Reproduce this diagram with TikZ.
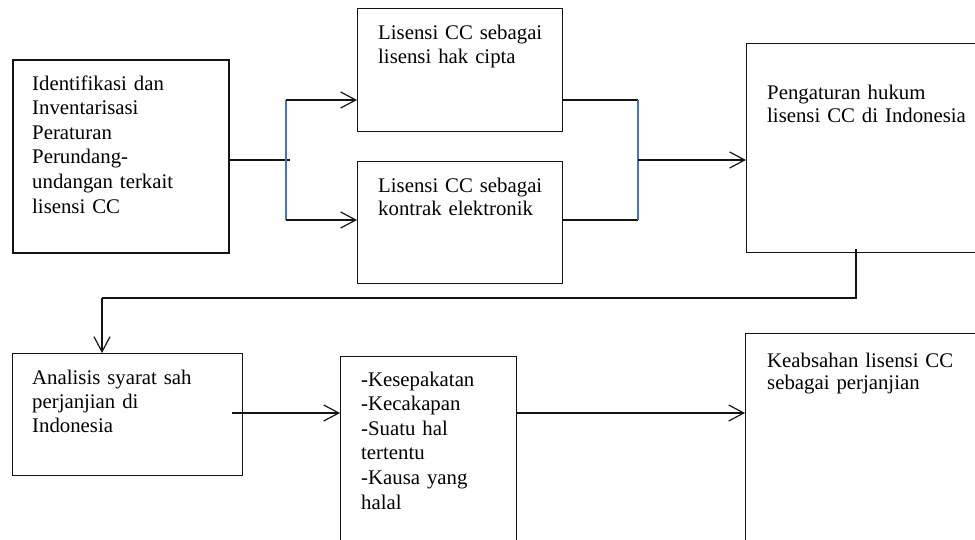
\documentclass[tikz,border=0pt]{standalone}
\usepackage{fontspec}
\setmainfont{Liberation Serif}
\usetikzlibrary{arrows.meta}
\definecolor{lineblue}{RGB}{68,114,196}
\definecolor{ink}{RGB}{20,20,20}
\begin{document}
\begin{tikzpicture}[x=1pt,y=-1pt,
  box/.style={draw=ink, line width=1.2pt, rectangle, inner sep=0pt, anchor=north west},
  lbl/.style={anchor=base west, inner sep=0pt, text width=250pt, align=left, text=black},
  conn/.style={draw=ink, line width=1.2pt},
  arr/.style={conn, -{Straight Barb[length=15pt,width=16pt]}},
  bus/.style={draw=lineblue, line width=1.2pt}]
\useasboundingbox (0,0) rectangle (975,539);
% boxes
\node[box, line width=2pt, minimum width=216pt, minimum height=193pt] (b1) at (12,59) {};
\node[box, minimum width=205pt, minimum height=123pt] (b2) at (357,8) {};
\node[box, minimum width=205pt, minimum height=122pt] (b3) at (357,161) {};
\node[box, minimum width=240pt, minimum height=209pt] (b4) at (746,43) {};
\node[box, minimum width=230pt, minimum height=122pt] (b5) at (12,353) {};
\node[box, minimum width=176pt, minimum height=200pt] (b6) at (340,356) {};
\node[box, minimum width=240pt, minimum height=220pt] (b7) at (745,333) {};
% texts
\node[lbl, font=\fontsize{20.8}{24.6}\selectfont] (t1) at (32,90)
  {Identifikasi dan\\Inventarisasi\\Peraturan\\Perundang-\\undangan terkait\\lisensi CC};
\node[lbl, font=\fontsize{20.8}{24}\selectfont] (t2) at (378,39)
  {Lisensi CC sebagai\\lisensi hak cipta};
\node[lbl, font=\fontsize{20.8}{23}\selectfont] (t3) at (378,192)
  {Lisensi CC sebagai\\kontrak elektronik};
\node[lbl, font=\fontsize{20.8}{23}\selectfont] (t4) at (767,99)
  {Pengaturan hukum\\lisensi CC di Indonesia};
\node[lbl, font=\fontsize{20.8}{24}\selectfont] (t5) at (32,384)
  {Analisis syarat sah\\perjanjian di\\Indonesia};
\node[lbl, font=\fontsize{20.8}{24.6}\selectfont] (t6) at (361,386)
  {-Kesepakatan\\-Kecakapan\\-Suatu hal\\tertentu\\-Kausa yang\\halal};
\node[lbl, font=\fontsize{20.8}{22}\selectfont] (t7) at (767,367)
  {Keabsahan lisensi CC\\sebagai perjanjian};
% left fork
\coordinate (fl) at (290,160);
\coordinate (flt) at (286,100);
\coordinate (flb) at (286,220);
\draw[conn] (b1.east |- fl) -- (fl);
\draw[bus] (flt) -- (flb);
\draw[arr] (flt) -- (b2.west |- flt);
\draw[arr] (flb) -- (b3.west |- flb);
% right fork
\coordinate (fr) at (638,160);
\coordinate (frt) at (638,100);
\coordinate (frb) at (638,220);
\draw[conn] (b2.east |- frt) -- (frt);
\draw[conn] (b3.east |- frb) -- (frb);
\draw[bus] (frt) -- (frb);
\draw[arr] (fr) -- (b4.west |- fr);
% down and back
\coordinate (dn) at (856,298);
\coordinate (dl) at (102,298);
\draw[draw=ink, line width=2.4pt] ([yshift=4pt]b4.south -| dn) -- (dn) -- (dl);
\draw[arr] (dl) -- (b5.north -| dl);
% bottom row
\coordinate (a5) at (232,413);
\draw[arr] (a5) -- (b6.west |- a5);
\draw[arr] (b6.east |- a5) -- (b7.west |- a5);
\end{tikzpicture}
\end{document}
